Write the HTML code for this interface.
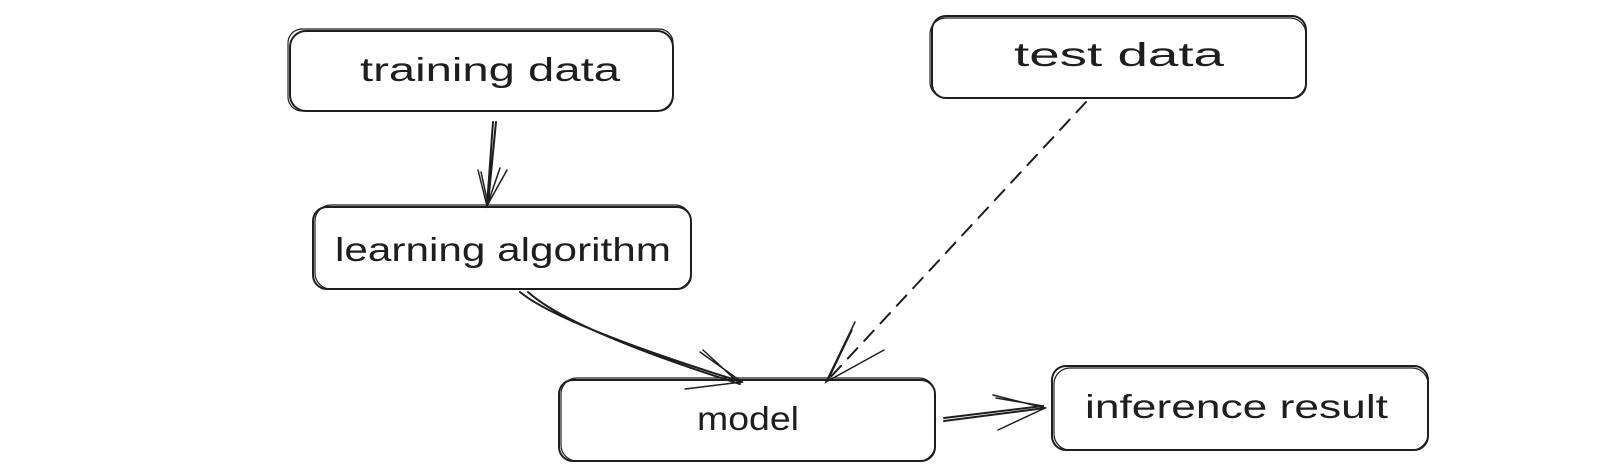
<!DOCTYPE html>
<html><head><meta charset="utf-8"><style>
html,body{margin:0;padding:0;background:#fff;width:1622px;height:474px;overflow:hidden}
text{font-family:"Liberation Sans",sans-serif;font-size:33px;fill:#1e1e1e}
</style></head><body>
<svg width="1622" height="474" viewBox="0 0 1622 474" xmlns="http://www.w3.org/2000/svg">
<g fill="none" stroke="#1e1e1e" stroke-width="2" stroke-linecap="round">
<rect x="290" y="31" width="383" height="80" rx="16"/>
<rect x="288" y="29" width="385" height="82" rx="14" stroke-width="1.2"/>
<rect x="932" y="16" width="374" height="82" rx="14"/>
<rect x="930" y="18" width="376" height="80" rx="16" stroke-width="1.2"/>
<rect x="313" y="207" width="378" height="82" rx="14"/>
<rect x="315" y="205" width="376" height="84" rx="16" stroke-width="1.2"/>
<rect x="559" y="380" width="376" height="81" rx="14"/>
<rect x="561" y="378" width="374" height="83" rx="16" stroke-width="1.2"/>
<rect x="1052" y="366" width="376" height="84" rx="14"/>
<rect x="1054" y="368" width="374" height="82" rx="16" stroke-width="1.2"/>

<path d="M493 122 L487 206 M496 122 L488 204"/>
<path d="M478 170 L487 206 L500 168 M481 172 L488 204 L507 170" stroke-width="1.5"/>

<path d="M520 292 Q560 325 742 382 M528 292 Q570 330 740 384"/>
<path d="M700 352 L742 382 L685 389 M703 350 L740 384" stroke-width="1.5"/>

<path d="M1086 102 L826 382" stroke-dasharray="14 10"/>
<path d="M855 322 L826 382 L884 350 M852 330 L828 380" stroke-width="1.5"/>

<path d="M944 421 L1045 408 M944 418 L1043 406"/>
<path d="M993 395 L1045 408 L998 430 M996 398 L1043 406" stroke-width="1.5"/>
</g>
<text x="360" y="81" textLength="260" lengthAdjust="spacingAndGlyphs">training data</text>
<text x="1014" y="66" textLength="210" lengthAdjust="spacingAndGlyphs">test data</text>
<text x="335" y="261" textLength="336" lengthAdjust="spacingAndGlyphs">learning algorithm</text>
<text x="697" y="430" textLength="102" lengthAdjust="spacingAndGlyphs">model</text>
<text x="1085" y="418" textLength="303" lengthAdjust="spacingAndGlyphs">inference result</text>
</svg>
</body></html>
